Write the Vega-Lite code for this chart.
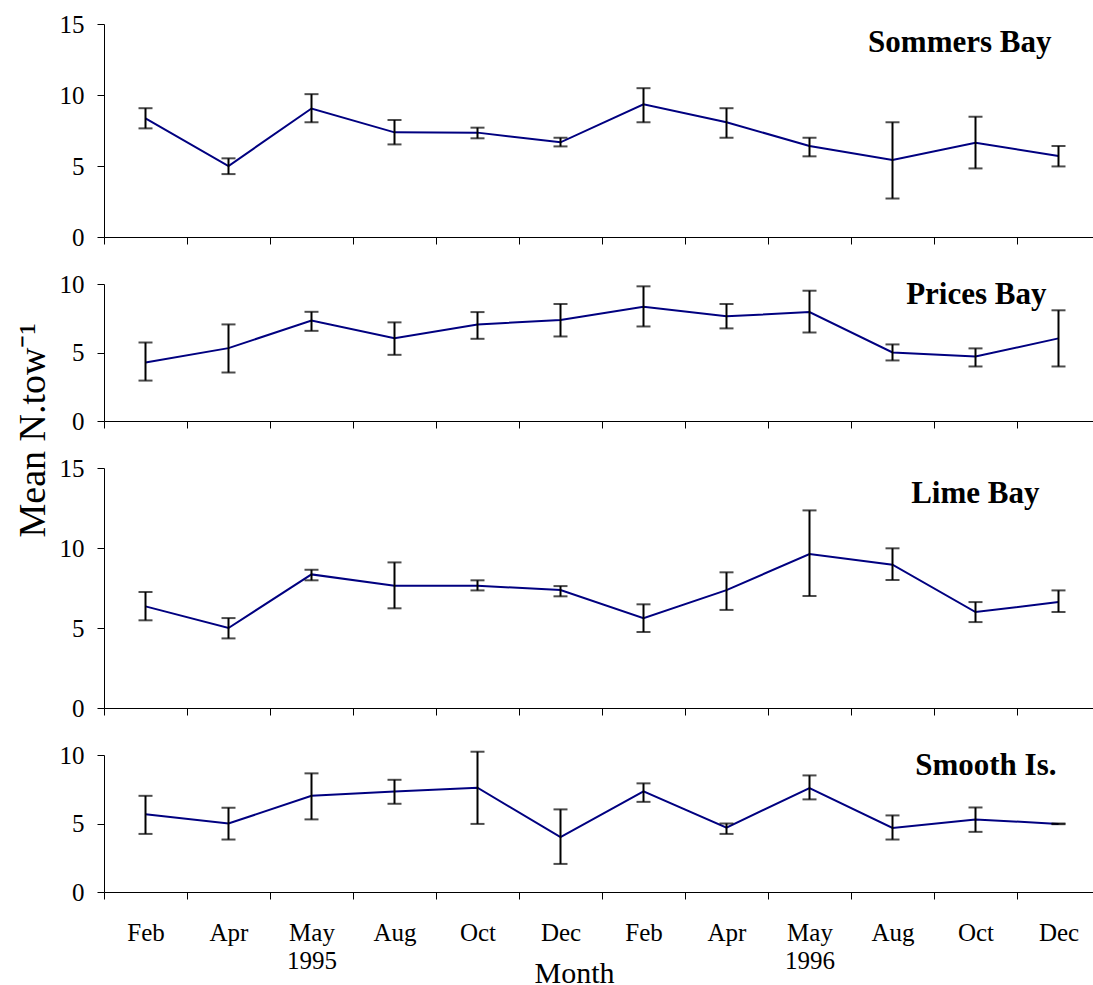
{
  "$schema": "https://vega.github.io/schema/vega-lite/v6.json",
  "background": "white",
  "padding": {"left": 14, "top": 12, "right": 0, "bottom": 0},
  "config": {
    "font": "Liberation Serif",
    "view": {"stroke": null},
    "axis": {
      "domainColor": "black",
      "tickColor": "black",
      "labelColor": "black",
      "titleColor": "black",
      "labelFont": "Liberation Serif",
      "titleFont": "Liberation Serif",
      "labelFontSize": 25,
      "titleFontSize": 30,
      "titleFontWeight": "normal",
      "grid": false,
      "tickSize": 7,
      "domainWidth": 1,
      "tickWidth": 1
    },
    "title": {"font": "Liberation Serif", "fontSize": 31, "fontWeight": "bold", "color": "black"}
  },
  "datasets": {
    "tows": [
      {"site": "Sommers Bay", "period": "Feb 1995", "mean": 8.35, "lo": 7.65, "hi": 9.07},
      {"site": "Sommers Bay", "period": "Apr 1995", "mean": 5.0, "lo": 4.43, "hi": 5.54},
      {"site": "Sommers Bay", "period": "May 1995", "mean": 9.05, "lo": 8.08, "hi": 10.06},
      {"site": "Sommers Bay", "period": "Aug 1995", "mean": 7.37, "lo": 6.52, "hi": 8.24},
      {"site": "Sommers Bay", "period": "Oct 1995", "mean": 7.35, "lo": 6.95, "hi": 7.7},
      {"site": "Sommers Bay", "period": "Dec 1995", "mean": 6.67, "lo": 6.38, "hi": 6.99},
      {"site": "Sommers Bay", "period": "Feb 1996", "mean": 9.35, "lo": 8.08, "hi": 10.48},
      {"site": "Sommers Bay", "period": "Apr 1996", "mean": 8.08, "lo": 6.99, "hi": 9.07},
      {"site": "Sommers Bay", "period": "May 1996", "mean": 6.41, "lo": 5.68, "hi": 6.99},
      {"site": "Sommers Bay", "period": "Aug 1996", "mean": 5.42, "lo": 2.71, "hi": 8.08},
      {"site": "Sommers Bay", "period": "Oct 1996", "mean": 6.64, "lo": 4.83, "hi": 8.47},
      {"site": "Sommers Bay", "period": "Dec 1996", "mean": 5.7, "lo": 4.97, "hi": 6.41},

      {"site": "Prices Bay", "period": "Feb 1995", "mean": 4.27, "lo": 2.95, "hi": 5.73},
      {"site": "Prices Bay", "period": "Apr 1995", "mean": 5.32, "lo": 3.54, "hi": 7.05},
      {"site": "Prices Bay", "period": "May 1995", "mean": 7.34, "lo": 6.58, "hi": 7.97},
      {"site": "Prices Bay", "period": "Aug 1995", "mean": 6.05, "lo": 4.83, "hi": 7.2},
      {"site": "Prices Bay", "period": "Oct 1995", "mean": 7.05, "lo": 6.0, "hi": 7.95},
      {"site": "Prices Bay", "period": "Dec 1995", "mean": 7.37, "lo": 6.17, "hi": 8.54},
      {"site": "Prices Bay", "period": "Feb 1996", "mean": 8.34, "lo": 6.9, "hi": 9.83},
      {"site": "Prices Bay", "period": "Apr 1996", "mean": 7.64, "lo": 6.76, "hi": 8.54},
      {"site": "Prices Bay", "period": "May 1996", "mean": 7.95, "lo": 6.46, "hi": 9.51},
      {"site": "Prices Bay", "period": "Aug 1996", "mean": 5.0, "lo": 4.42, "hi": 5.59},
      {"site": "Prices Bay", "period": "Oct 1996", "mean": 4.71, "lo": 3.98, "hi": 5.3},
      {"site": "Prices Bay", "period": "Dec 1996", "mean": 6.03, "lo": 3.98, "hi": 8.08},

      {"site": "Lime Bay", "period": "Feb 1995", "mean": 6.35, "lo": 5.48, "hi": 7.25},
      {"site": "Lime Bay", "period": "Apr 1995", "mean": 5.0, "lo": 4.35, "hi": 5.62},
      {"site": "Lime Bay", "period": "May 1995", "mean": 8.35, "lo": 7.98, "hi": 8.64},
      {"site": "Lime Bay", "period": "Aug 1995", "mean": 7.64, "lo": 6.23, "hi": 9.1},
      {"site": "Lime Bay", "period": "Oct 1995", "mean": 7.64, "lo": 7.35, "hi": 7.98},
      {"site": "Lime Bay", "period": "Dec 1995", "mean": 7.37, "lo": 6.98, "hi": 7.62},
      {"site": "Lime Bay", "period": "Feb 1996", "mean": 5.62, "lo": 4.75, "hi": 6.48},
      {"site": "Lime Bay", "period": "Apr 1996", "mean": 7.37, "lo": 6.13, "hi": 8.48},
      {"site": "Lime Bay", "period": "May 1996", "mean": 9.62, "lo": 7.0, "hi": 12.35},
      {"site": "Lime Bay", "period": "Aug 1996", "mean": 8.96, "lo": 8.0, "hi": 9.98},
      {"site": "Lime Bay", "period": "Oct 1996", "mean": 6.0, "lo": 5.37, "hi": 6.62},
      {"site": "Lime Bay", "period": "Dec 1996", "mean": 6.62, "lo": 6.0, "hi": 7.35},

      {"site": "Smooth Is.", "period": "Feb 1995", "mean": 5.68, "lo": 4.24, "hi": 7.02},
      {"site": "Smooth Is.", "period": "Apr 1995", "mean": 5.0, "lo": 3.83, "hi": 6.15},
      {"site": "Smooth Is.", "period": "May 1995", "mean": 7.02, "lo": 5.3, "hi": 8.66},
      {"site": "Smooth Is.", "period": "Aug 1995", "mean": 7.34, "lo": 6.44, "hi": 8.19},
      {"site": "Smooth Is.", "period": "Oct 1995", "mean": 7.61, "lo": 4.97, "hi": 10.24},
      {"site": "Smooth Is.", "period": "Dec 1995", "mean": 4.0, "lo": 2.05, "hi": 6.03},
      {"site": "Smooth Is.", "period": "Feb 1996", "mean": 7.34, "lo": 6.58, "hi": 7.93},
      {"site": "Smooth Is.", "period": "Apr 1996", "mean": 4.7, "lo": 4.24, "hi": 5.0},
      {"site": "Smooth Is.", "period": "May 1996", "mean": 7.59, "lo": 6.76, "hi": 8.51},
      {"site": "Smooth Is.", "period": "Aug 1996", "mean": 4.68, "lo": 3.83, "hi": 5.59},
      {"site": "Smooth Is.", "period": "Oct 1996", "mean": 5.3, "lo": 4.39, "hi": 6.17},
      {"site": "Smooth Is.", "period": "Dec 1996", "mean": 4.97, "lo": 4.95, "hi": 5.0}
    ]
  },
  "bounds": "flush",
  "spacing": 47,
  "resolve": {"scale": {"y": "independent"}, "axis": {"y": "independent"}},
  "vconcat": [
    {
      "width": 996,
      "height": 213,
      "data": {"name": "tows"},
      "transform": [{"filter": "datum.site == 'Sommers Bay'"}],
      "title": {"text": "Sommers Bay", "anchor": "end", "dy": 51, "dx": -49},
      "encoding": {
        "x": {
          "field": "period", "type": "ordinal",
          "scale": {"type": "band", "domain": ["Feb 1995", "Apr 1995", "May 1995", "Aug 1995", "Oct 1995", "Dec 1995", "Feb 1996", "Apr 1996", "May 1996", "Aug 1996", "Oct 1996", "Dec 1996"], "paddingInner": 0, "paddingOuter": 0},
          "axis": {"title": null, "labels": false, "tickBand": "extent"}
        }
      },
      "layer": [
        {
          "mark": {"type": "line", "color": "#000080", "strokeWidth": 2},
          "encoding": {"y": {"field": "mean", "type": "quantitative", "scale": {"domain": [0, 15], "nice": false}, "axis": {"title": null, "values": [0, 5, 10, 15], "labelPadding": 13}}}
        },
        {
          "mark": {"type": "rule", "color": "black", "strokeWidth": 2},
          "encoding": {"y": {"field": "lo", "type": "quantitative"}, "y2": {"field": "hi"}}
        },
        {
          "mark": {"type": "tick", "color": "black", "size": 14, "thickness": 2},
          "encoding": {"y": {"field": "lo", "type": "quantitative"}}
        },
        {
          "mark": {"type": "tick", "color": "black", "size": 14, "thickness": 2},
          "encoding": {"y": {"field": "hi", "type": "quantitative"}}
        }
      ]
    },
    {
      "width": 996,
      "height": 137,
      "data": {"name": "tows"},
      "transform": [{"filter": "datum.site == 'Prices Bay'"}],
      "title": {"text": "Prices Bay", "anchor": "end", "dy": 43, "dx": -54},
      "encoding": {
        "x": {
          "field": "period", "type": "ordinal",
          "scale": {"type": "band", "domain": ["Feb 1995", "Apr 1995", "May 1995", "Aug 1995", "Oct 1995", "Dec 1995", "Feb 1996", "Apr 1996", "May 1996", "Aug 1996", "Oct 1996", "Dec 1996"], "paddingInner": 0, "paddingOuter": 0},
          "axis": {"title": null, "labels": false, "tickBand": "extent"}
        }
      },
      "layer": [
        {
          "mark": {"type": "line", "color": "#000080", "strokeWidth": 2},
          "encoding": {"y": {"field": "mean", "type": "quantitative", "scale": {"domain": [0, 10], "nice": false}, "axis": {"title": "Mean N.tow⁻¹", "titleFontSize": 38, "values": [0, 5, 10], "labelPadding": 13, "titleX": -60, "titleY": 253, "titleAlign": "left", "titleBaseline": "alphabetic"}}}
        },
        {
          "mark": {"type": "rule", "color": "black", "strokeWidth": 2},
          "encoding": {"y": {"field": "lo", "type": "quantitative"}, "y2": {"field": "hi"}}
        },
        {
          "mark": {"type": "tick", "color": "black", "size": 14, "thickness": 2},
          "encoding": {"y": {"field": "lo", "type": "quantitative"}}
        },
        {
          "mark": {"type": "tick", "color": "black", "size": 14, "thickness": 2},
          "encoding": {"y": {"field": "hi", "type": "quantitative"}}
        }
      ]
    },
    {
      "width": 996,
      "height": 240,
      "data": {"name": "tows"},
      "transform": [{"filter": "datum.site == 'Lime Bay'"}],
      "title": {"text": "Lime Bay", "anchor": "end", "dy": 58, "dx": -61},
      "encoding": {
        "x": {
          "field": "period", "type": "ordinal",
          "scale": {"type": "band", "domain": ["Feb 1995", "Apr 1995", "May 1995", "Aug 1995", "Oct 1995", "Dec 1995", "Feb 1996", "Apr 1996", "May 1996", "Aug 1996", "Oct 1996", "Dec 1996"], "paddingInner": 0, "paddingOuter": 0},
          "axis": {"title": null, "labels": false, "tickBand": "extent"}
        }
      },
      "layer": [
        {
          "mark": {"type": "line", "color": "#000080", "strokeWidth": 2},
          "encoding": {"y": {"field": "mean", "type": "quantitative", "scale": {"domain": [0, 15], "nice": false}, "axis": {"title": null, "values": [0, 5, 10, 15], "labelPadding": 13}}}
        },
        {
          "mark": {"type": "rule", "color": "black", "strokeWidth": 2},
          "encoding": {"y": {"field": "lo", "type": "quantitative"}, "y2": {"field": "hi"}}
        },
        {
          "mark": {"type": "tick", "color": "black", "size": 14, "thickness": 2},
          "encoding": {"y": {"field": "lo", "type": "quantitative"}}
        },
        {
          "mark": {"type": "tick", "color": "black", "size": 14, "thickness": 2},
          "encoding": {"y": {"field": "hi", "type": "quantitative"}}
        }
      ]
    },
    {
      "width": 996,
      "height": 137,
      "data": {"name": "tows"},
      "transform": [{"filter": "datum.site == 'Smooth Is.'"}],
      "title": {"text": "Smooth Is.", "anchor": "end", "dy": 43, "dx": -44},
      "encoding": {
        "x": {
          "field": "period", "type": "ordinal",
          "scale": {"type": "band", "domain": ["Feb 1995", "Apr 1995", "May 1995", "Aug 1995", "Oct 1995", "Dec 1995", "Feb 1996", "Apr 1996", "May 1996", "Aug 1996", "Oct 1996", "Dec 1996"], "paddingInner": 0, "paddingOuter": 0},
          "axis": {
            "title": "Month",
            "tickBand": "extent",
            "labelAngle": 0,
            "labelPadding": 21,
            "labelLineHeight": 28,
            "labelExpr": "isValid(datum.value) ? (datum.value == 'May 1995' ? ['May', '1995'] : (datum.value == 'May 1996' ? ['May', '1996'] : substring(datum.value, 0, 3))) : ''",
            "titleX": 470,
            "titleY": 90,
            "titleBaseline": "alphabetic"
          }
        }
      },
      "layer": [
        {
          "mark": {"type": "line", "color": "#000080", "strokeWidth": 2},
          "encoding": {"y": {"field": "mean", "type": "quantitative", "scale": {"domain": [0, 10], "nice": false}, "axis": {"title": null, "values": [0, 5, 10], "labelPadding": 13}}}
        },
        {
          "mark": {"type": "rule", "color": "black", "strokeWidth": 2},
          "encoding": {"y": {"field": "lo", "type": "quantitative"}, "y2": {"field": "hi"}}
        },
        {
          "mark": {"type": "tick", "color": "black", "size": 14, "thickness": 2},
          "encoding": {"y": {"field": "lo", "type": "quantitative"}}
        },
        {
          "mark": {"type": "tick", "color": "black", "size": 14, "thickness": 2},
          "encoding": {"y": {"field": "hi", "type": "quantitative"}}
        }
      ]
    }
  ]
}
